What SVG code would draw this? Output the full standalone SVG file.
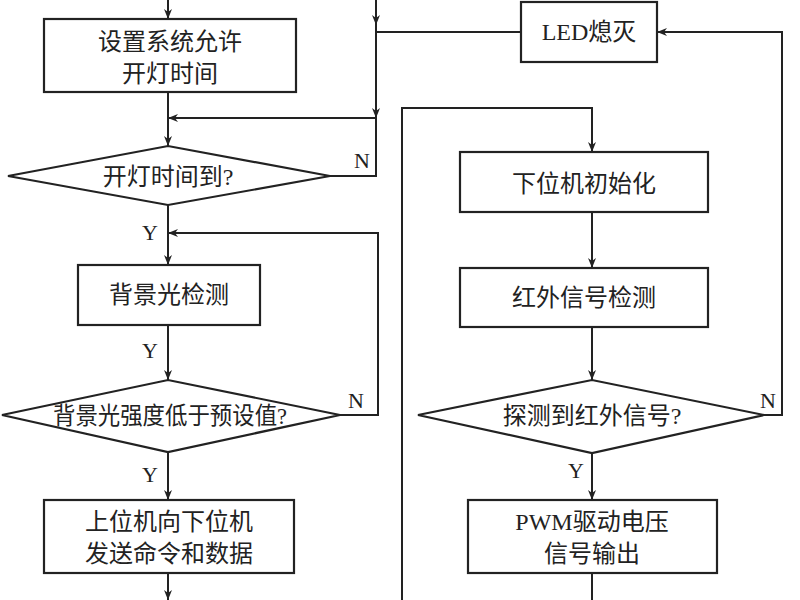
<svg xmlns="http://www.w3.org/2000/svg" width="800" height="600" viewBox="0 0 800 600">
<defs>
<marker id="a" viewBox="0 0 10 10" refX="10" refY="5" markerWidth="10" markerHeight="10" markerUnits="userSpaceOnUse" orient="auto"><path d="M0,1 L10,5 L0,9 L3,5 Z" fill="#222"/></marker>
<style>
.n{fill:#fff;stroke:#222;stroke-width:2.2}
.c{fill:none;stroke:#222;stroke-width:2}
text{font-family:"Liberation Serif","Noto Sans CJK SC",serif;font-size:24px;fill:#222;text-anchor:middle}
.l{font-size:22px}
</style>
</defs>
<rect width="800" height="600" fill="#fff"/>
<g id="connectors">
<path class="c" d="M168,0 V19" marker-end="url(#a)"/>
<path class="c" d="M376,0 V25" marker-end="url(#a)"/>
<path class="c" d="M376,25 V118" marker-end="url(#a)"/>
<path class="c" d="M521,32 H376"/>
<path class="c" d="M376,118 H168" marker-end="url(#a)"/>
<path class="c" d="M168,92 V146" marker-end="url(#a)"/>
<path class="c" d="M330,176 H376 V118"/>
<path class="c" d="M168,205 V265" marker-end="url(#a)"/>
<path class="c" d="M340,415 H378 V233 H168" marker-end="url(#a)"/>
<path class="c" d="M168,325 V380" marker-end="url(#a)"/>
<path class="c" d="M168,452 V500" marker-end="url(#a)"/>
<path class="c" d="M168,573 V600" marker-end="url(#a)"/>
<path class="c" d="M402,600 V108 H592 V152" marker-end="url(#a)"/>
<path class="c" d="M592,212 V268" marker-end="url(#a)"/>
<path class="c" d="M592,327 V380" marker-end="url(#a)"/>
<path class="c" d="M592,453 V500" marker-end="url(#a)"/>
<path class="c" d="M592,573 V600"/>
<path class="c" d="M764,415 H782 V32 H657" marker-end="url(#a)"/>
<text class="l" x="362" y="168">N</text>
<text class="l" x="150" y="240">Y</text>
<text class="l" x="150" y="358">Y</text>
<text class="l" x="356" y="408">N</text>
<text class="l" x="150" y="482">Y</text>
<text class="l" x="768" y="408">N</text>
<text class="l" x="576" y="478">Y</text>
</g>
<g id="n1"><rect class="n" x="44" y="19" width="252" height="73"/><text x="170" y="50">设置系统允许</text><text x="170" y="82">开灯时间</text></g>
<g id="n2"><rect class="n" x="521" y="2" width="136" height="60"/><text x="589" y="40">LED熄灭</text></g>
<g id="n3"><polygon class="n" points="8,176 168,146 330,176 168,205"/><text x="168" y="185">开灯时间到?</text></g>
<g id="n4"><rect class="n" x="78" y="265" width="182" height="60"/><text x="169" y="303">背景光检测</text></g>
<g id="n5"><polygon class="n" points="2,415 168,380 340,415 168,452"/><text x="170" y="424" textLength="234" lengthAdjust="spacingAndGlyphs">背景光强度低于预设值?</text></g>
<g id="n6"><rect class="n" x="44" y="500" width="250" height="73"/><text x="169" y="530">上位机向下位机</text><text x="169" y="562">发送命令和数据</text></g>
<g id="n7"><rect class="n" x="460" y="152" width="248" height="60"/><text x="584" y="192">下位机初始化</text></g>
<g id="n8"><rect class="n" x="460" y="268" width="248" height="59"/><text x="584" y="306">红外信号检测</text></g>
<g id="n9"><polygon class="n" points="418,415 592,380 764,415 592,453"/><text x="592" y="424">探测到红外信号?</text></g>
<g id="n10"><rect class="n" x="468" y="500" width="249" height="73"/><text x="592" y="530">PWM驱动电压</text><text x="592" y="562">信号输出</text></g>
</svg>
